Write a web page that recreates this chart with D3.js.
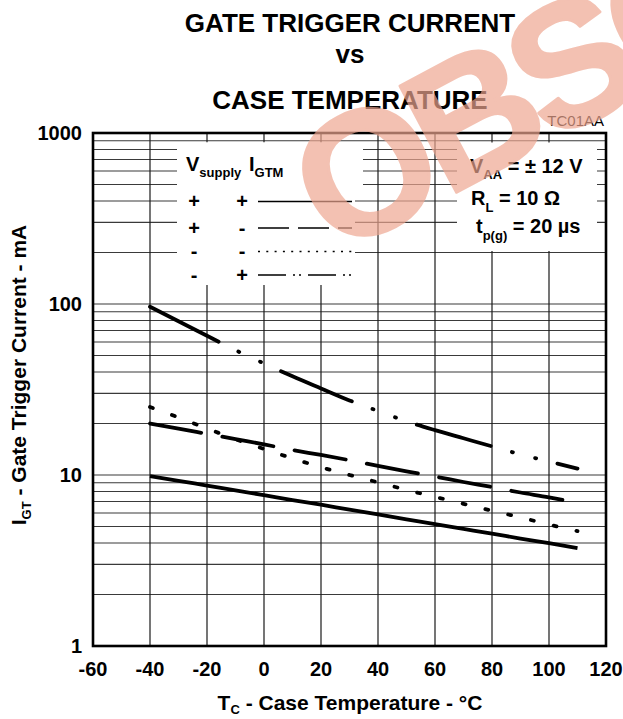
<!DOCTYPE html>
<html><head><meta charset="utf-8">
<script src="https://cdn.jsdelivr.net/npm/d3@7/dist/d3.min.js"></script>
<style>
body{margin:0;background:#fff}
text{font-family:"Liberation Sans",Arial,Helvetica,sans-serif;fill:#000}
</style>
</head><body>
<svg id="chart" width="623" height="719"></svg>
<script>
// ---- data ----
const temps = [-40,-30,-20,-10,0,10,20,30,40,50,60,70,80,90,100,110];
const igtSupPosGatePos = [9.86,9.25,8.67,8.13,7.62,7.14,6.70,6.27,5.88,5.51,5.16,4.84,4.54,4.25,3.99,3.74];
const igtSupPosGateNeg = [20.0,18.7,17.4,16.2,15.1,14.0,13.1,12.2,11.3,10.5,9.8,9.1,8.5,7.9,7.4,6.85];
const igtSupNegGateNeg = [25.0,21.7,18.7,16.2,14.2,12.5,11.1,10.0,9.06,8.18,7.45,6.78,6.18,5.65,5.13,4.70];
const igtSupNegGatePos = [96.4,79.3,65.2,53.7,44.9,37.8,32.1,27.3,23.7,20.6,18.3,16.4,14.7,13.2,12.0,10.9];
const xTickValues = [-60,-40,-20,0,20,40,60,80,100,120];
const yTickValues = [1,10,100,1000];
const titleLines = ["GATE TRIGGER CURRENT","vs","CASE TEMPERATURE"];
const legendSigns = [["+","+"],["+","-"],["-","-"],["-","+"]];

const svg = d3.select("#chart");
const x = d3.scaleLinear().domain([-60,120]).range([93,606]);
const y = d3.scaleLog().domain([1,1000]).range([646,133]);

// grid
const minor = [];
[1,10,100].forEach(d => { for (let m=2;m<=9;m++) minor.push(m*d); });
const g = svg.append("g");
g.selectAll("line.h").data(minor.concat([10,100])).join("line")
  .attr("x1",x(-60)).attr("x2",x(120)).attr("y1",d=>y(d)).attr("y2",d=>y(d))
  .attr("stroke","#3a3a3a").attr("stroke-width",1.1);
g.selectAll("line.v").data(d3.range(-40,120,20)).join("line")
  .attr("y1",y(1000)).attr("y2",y(1)).attr("x1",d=>x(d)).attr("x2",d=>x(d))
  .attr("stroke","#1a1a1a").attr("stroke-width",1.2);

// white boxes (legend and conditions)
svg.append("rect").attr("x",177).attr("y",142.5).attr("width",186).attr("height",46).attr("fill","#fff");
svg.append("rect").attr("x",177).attr("y",142.5).attr("width",178).attr("height",142.5).attr("fill","#fff");
svg.append("rect").attr("x",457).attr("y",142.5).attr("width",140).attr("height",108.5).attr("fill","#fff");

// curves
const line = d3.line().x(d=>x(d[0])).y(d=>y(d[1])).curve(d3.curveMonotoneX);
const series = [
  {v: igtSupPosGatePos, dash: null},
  {v: igtSupPosGateNeg, dash: "52,21.5"},
  {v: igtSupNegGateNeg, dash: "3,20.4"},
  {v: igtSupNegGatePos, dash: "77,22,1,23,1,22"}
];
series.forEach(s => {
  svg.append("path").datum(temps.map((t,i)=>[t,s.v[i]]))
    .attr("d",line).attr("fill","none").attr("stroke","#000")
    .attr("stroke-width",3.8).attr("stroke-linecap", s.dash ? "round" : "butt")
    .attr("stroke-dasharray", s.dash);
});

// frame
svg.append("rect").attr("x",x(-60)).attr("y",y(1000)).attr("width",x(120)-x(-60)).attr("height",y(1)-y(1000))
  .attr("fill","none").attr("stroke","#000").attr("stroke-width",2.6);

// tick labels
svg.selectAll("text.xt").data(xTickValues).join("text")
  .attr("x",d=>x(d)).attr("y",676).attr("text-anchor","middle")
  .attr("font-size",20).attr("font-weight","bold").text(d=>d);
svg.selectAll("text.yt").data(yTickValues).join("text")
  .attr("x",82).attr("y",d=>y(d)+7).attr("text-anchor","end")
  .attr("font-size",20).attr("font-weight","bold").text(d=>d);

// axis titles
const xt = svg.append("text").attr("x",350).attr("y",710).attr("text-anchor","middle")
  .attr("font-size",21).attr("font-weight","bold");
xt.append("tspan").text("T");
xt.append("tspan").attr("font-size",13).attr("dy",4).text("C");
xt.append("tspan").attr("dy",-4).text(" - Case Temperature - °C");
const yt = svg.append("text").attr("transform","translate(26,375) rotate(-90)").attr("text-anchor","middle")
  .attr("font-size",21).attr("font-weight","bold");
yt.append("tspan").text("I");
yt.append("tspan").attr("font-size",13).attr("dy",5).text("GT");
yt.append("tspan").attr("dy",-5).text(" - Gate Trigger Current - mA");

// title
svg.selectAll("text.title").data(titleLines).join("text")
  .attr("x",350).attr("y",(d,i)=>[32,63,109][i]).attr("text-anchor","middle")
  .attr("font-size",26).attr("font-weight","bold").text(d=>d);
svg.append("text").attr("x",604).attr("y",126).attr("text-anchor","end").attr("font-size",15).text("TC01AA");

// legend
function sub(xp, yp, main, subTxt, big, small, off){
  const t = svg.append("text").attr("x",xp).attr("y",yp).attr("font-size",big).attr("font-weight","bold");
  t.append("tspan").text(main);
  t.append("tspan").attr("font-size",small).attr("dy",off).text(subTxt);
  return t;
}
sub(186,171,"V","supply",20,13,6);
sub(249,171,"I","GTM",20,13,6);
const rowY = [201.5,228,251.5,275];
legendSigns.forEach((r,i)=>{
  svg.append("text").attr("x",194).attr("y",rowY[i]+6.5).attr("text-anchor","middle").attr("font-size",20).attr("font-weight","bold").text(r[0]);
  svg.append("text").attr("x",242).attr("y",rowY[i]+6.5).attr("text-anchor","middle").attr("font-size",20).attr("font-weight","bold").text(r[1]);
});
const legendDash = [null,"31,9","2,6.3","28,7,2,4,2,7"];
legendDash.forEach((d,i)=>{
  svg.append("line").attr("x1",258).attr("x2",352).attr("y1",rowY[i]).attr("y2",rowY[i])
    .attr("stroke","#000").attr("stroke-width",1.6).attr("stroke-dasharray",d);
});

// conditions
const c1 = sub(470,173,"V","AA",20,13,6);
c1.append("tspan").attr("font-size",20).attr("dy",-6).text(" = ± 12 V");
const c2 = sub(471,205,"R","L",20,13,7);
c2.append("tspan").attr("font-size",20).attr("dy",-7).text(" = 10 Ω");
const c3 = sub(476,233,"t","p(g)",20,13,7);
c3.append("tspan").attr("font-size",20).attr("dy",-7).text(" = 20 µs");

// watermark
svg.append("text").attr("transform","translate(335,257) rotate(-28)")
  .attr("font-family","DejaVu Serif, Liberation Serif, serif").attr("font-weight","bold")
  .attr("font-size",175).attr("letter-spacing",-10).style("fill","rgb(238,166,144)")
  .style("stroke","rgb(238,166,144)").attr("stroke-width",3).attr("stroke-linejoin","round")
  .attr("opacity",0.69).text("OBSOLETE");
</script>
</body></html>
